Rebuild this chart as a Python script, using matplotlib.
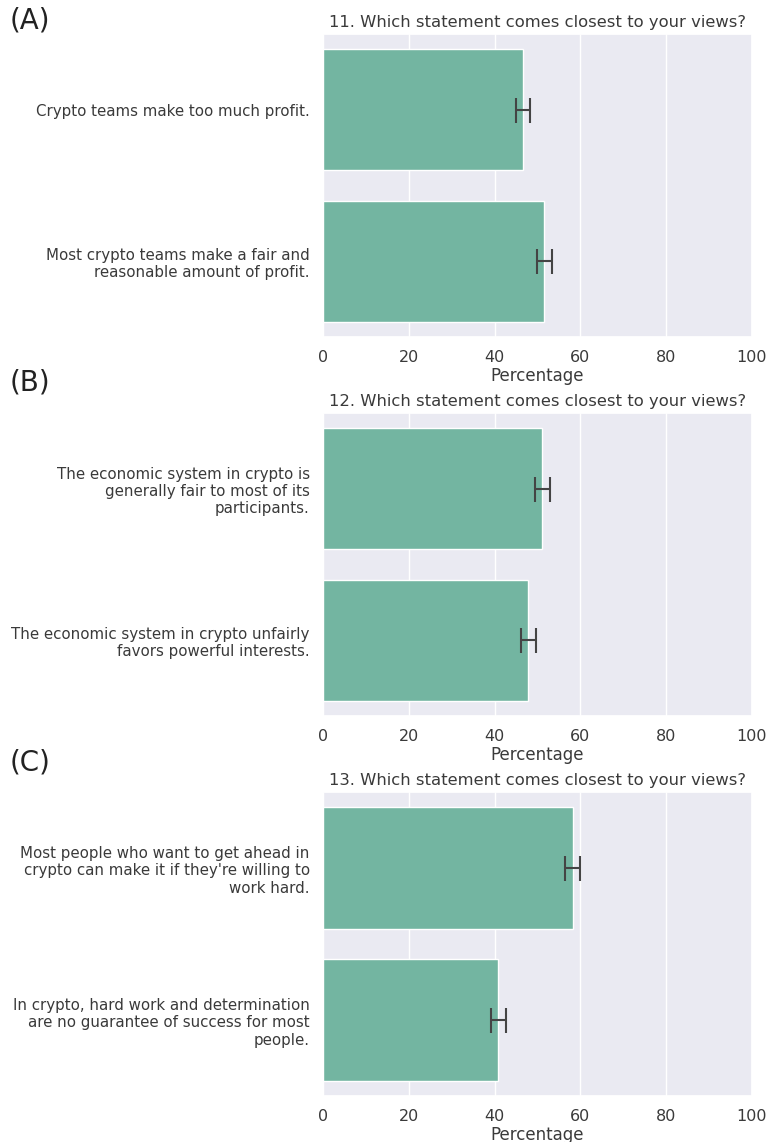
import numpy as np
import matplotlib
matplotlib.use("Agg")
import matplotlib.pyplot as plt
import seaborn as sns

sns.set_theme(style="darkgrid", font_scale=1.0)
plt.rcParams['font.family'] = ['DejaVu Sans']

titles = ["11. Which statement comes closest to your views?",
          "12. Which statement comes closest to your views?",
          "13. Which statement comes closest to your views?"]
panel_tags = ["(A)", "(B)", "(C)"]
answers = [
    ["Crypto teams make too much profit.",
     "Most crypto teams make a fair and\nreasonable amount of profit."],
    ["The economic system in crypto is\ngenerally fair to most of its\nparticipants.",
     "The economic system in crypto unfairly\nfavors powerful interests."],
    ["Most people who want to get ahead in\ncrypto can make it if they're willing to\nwork hard.",
     "In crypto, hard work and determination\nare no guarantee of success for most\npeople."],
]
pct = [[46.6, 51.6], [51.1, 47.9], [58.2, 40.9]]
err = [[1.7, 1.7], [1.7, 1.7], [1.7, 1.7]]

bar_color = "#73b5a1"
txt = "#3a3a3a"
W, H = 769, 1142
fig = plt.figure(figsize=(W / 100, H / 100), dpi=100)

# axes placement in pixels (top, bottom)
boxes = [(34, 337), (413, 716), (792, 1096)]
tag_y = [21, 383, 762]
left, right = 323, 752

for i in range(3):
    top, bot = boxes[i]
    ax = fig.add_axes([left / W, 1 - bot / H, (right - left) / W, (bot - top) / H])
    y = np.arange(len(answers[i]))
    ax.barh(y, pct[i], height=0.8, color=bar_color, xerr=err[i],
            error_kw=dict(ecolor="#444444", elinewidth=1.5, capsize=9, capthick=1.5))
    ax.set_ylim(1.5, -0.5)
    ax.set_xlim(0, 100)
    ax.set_xticks([0, 20, 40, 60, 80, 100])
    ax.set_yticks(y)
    ax.set_yticklabels(answers[i], ha="right", fontsize=10.8, color=txt)
    ax.tick_params(axis="x", labelsize=11.5, colors=txt)
    ax.grid(axis="y", visible=False)
    ax.set_xlabel("Percentage", fontsize=12, color=txt, labelpad=1)
    ax.set_title(titles[i], fontsize=11.8, color=txt, pad=5)
    fig.text(10 / W, 1 - tag_y[i] / H, panel_tags[i], fontsize=20, color="#222222",
             va="center", ha="left")

fig.savefig("out.png", dpi=100)
